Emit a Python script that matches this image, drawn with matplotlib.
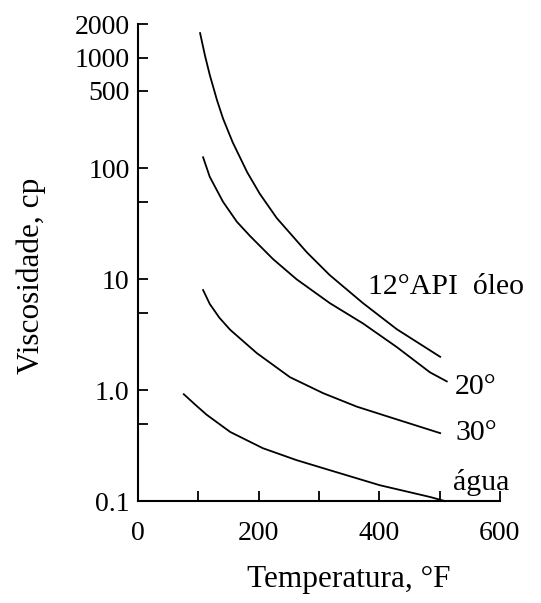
# Viscosidade x temperatura (óleos de várias densidades API e água)

import matplotlib.pyplot as plt
from matplotlib.ticker import FixedLocator, NullLocator

# curvas (temperatura em °F, viscosidade em cp)
t_12 = [103, 111, 119, 131, 141, 157, 181, 202, 230, 280, 318, 373, 429, 501]
v_12 = [1660, 1047, 698, 413, 282, 172, 92.5, 59, 35.7, 17.5, 10.9, 6.1, 3.55, 2.0]

t_20 = [108, 119, 141, 164, 186, 224, 263, 318, 373, 429, 484, 512]
v_20 = [126, 84, 50, 33, 24.5, 15.2, 10, 6.1, 4.0, 2.45, 1.45, 1.2]

t_30 = [108, 119, 135, 153, 197, 252, 307, 363, 418, 501]
v_30 = [8.0, 6.0, 4.5, 3.5, 2.16, 1.31, 0.94, 0.71, 0.57, 0.41]

t_agua = [76, 95, 114, 153, 207, 263, 318, 401, 484, 509]
v_agua = [0.92, 0.74, 0.60, 0.42, 0.30, 0.234, 0.19, 0.139, 0.109, 0.1]

# rótulos das curvas
rotulos = ['12°API  óleo', '20°', '30°', 'água']
rot_x = [381, 526, 526, 522]
rot_y = [8.5, 1.07, 0.41, 0.148]

y_ticks = [0.1, 0.5, 1, 5, 10, 50, 100, 500, 1000, 2000]
y_labels = ['0.1', '', '1.0', '', '10', '', '100', '500', '1000', '2000']
x_ticks = [0, 100, 200, 300, 400, 500, 600]
x_labels = ['0', '', '200', '', '400', '', '600']

plt.rcParams['font.family'] = ['Liberation Serif', 'DejaVu Serif']

fig = plt.figure(figsize=(5.41, 6.03), dpi=100)
ax = fig.add_axes([0.255, 0.169, 0.669, 0.791])

for t, v in [(t_12, v_12), (t_20, v_20), (t_30, v_30), (t_agua, v_agua)]:
    ax.plot(t, v, color='black', lw=1.3, clip_on=False)

for txt, x, y in zip(rotulos, rot_x, rot_y):
    ax.text(x, y, txt, fontsize=21.5, va='center', ha='left', clip_on=False)

ax.set_yscale('log')
ax.set_xlim(0, 600)
ax.set_ylim(0.1, 2000)

ax.yaxis.set_major_locator(FixedLocator(y_ticks))
ax.yaxis.set_minor_locator(NullLocator())
ax.set_yticklabels(y_labels)
ax.set_xticks(x_ticks)
ax.set_xticklabels(x_labels)

ax.tick_params(direction='in', length=7, width=1.3, labelsize=20)
ax.tick_params(axis='x', pad=14)
ax.tick_params(axis='y', pad=6)

for s in ['top', 'right']:
    ax.spines[s].set_visible(False)
for s in ['left', 'bottom']:
    ax.spines[s].set_linewidth(1.5)

ax.set_xlabel('Temperatura, °F', fontsize=22.5)
ax.set_ylabel('Viscosidade, cp', fontsize=22.5)
ax.xaxis.set_label_coords(0.583, -0.134)
ax.yaxis.set_label_coords(-0.254, 0.472)

plt.savefig('out.png', dpi=100)
